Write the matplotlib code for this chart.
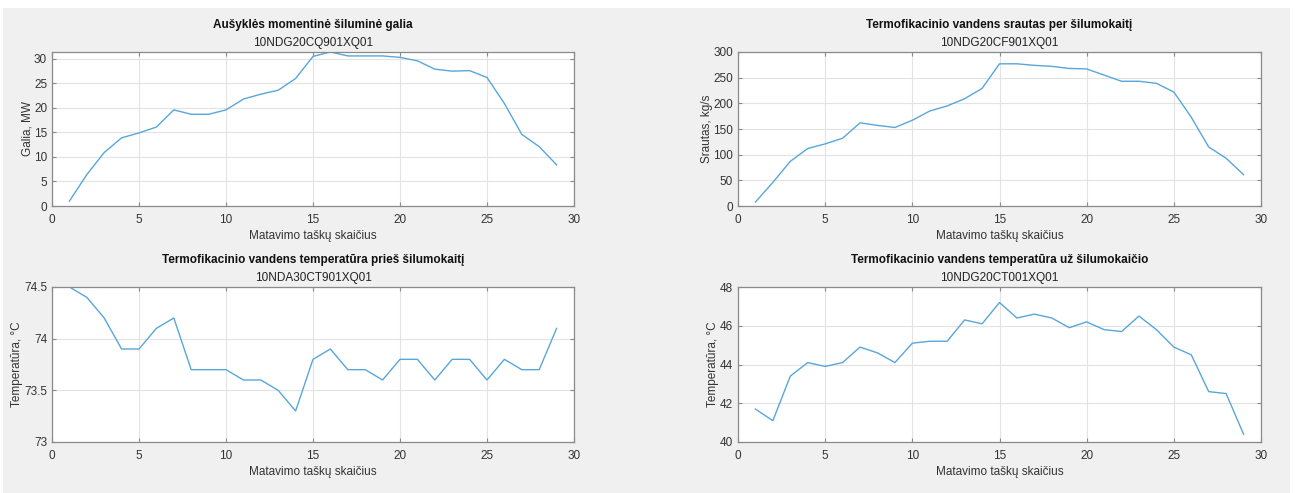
import matplotlib
matplotlib.use("Agg")
import matplotlib.pyplot as plt
from matplotlib.patches import Rectangle

plt.rcParams['font.family'] = ['Liberation Sans', 'DejaVu Sans']

x = list(range(1, 30))

galia = [1.0, 6.4, 10.9, 13.9, 14.9, 16.1, 19.6, 18.7, 18.7, 19.6,
         21.8, 22.8, 23.6, 26.0, 30.5, 31.4, 30.6, 30.6, 30.6, 30.3,
         29.6, 27.9, 27.5, 27.6, 26.2, 20.9, 14.6, 12.1, 8.4]

srautas = [7.7, 46, 87, 112, 121, 132, 162, 157, 153, 167,
           185, 195, 209, 229, 277, 277, 274, 272, 268, 267,
           255, 243, 243, 239, 222, 173, 115, 93, 61]

temp_pries = [74.5, 74.4, 74.2, 73.9, 73.9, 74.1, 74.2, 73.7, 73.7, 73.7,
              73.6, 73.6, 73.5, 73.3, 73.8, 73.9, 73.7, 73.7, 73.6, 73.8,
              73.8, 73.6, 73.8, 73.8, 73.6, 73.8, 73.7, 73.7, 74.1]

temp_uz = [41.7, 41.1, 43.4, 44.1, 43.9, 44.1, 44.9, 44.6, 44.1, 45.1,
           45.2, 45.2, 46.3, 46.1, 47.2, 46.4, 46.6, 46.4, 45.9, 46.2,
           45.8, 45.7, 46.5, 45.8, 44.9, 44.5, 42.6, 42.5, 40.4]

titles = ["Aušyklės momentinė šiluminė galia",
          "Termofikacinio vandens srautas per šilumokaitį",
          "Termofikacinio vandens temperatūra prieš šilumokaitį",
          "Termofikacinio vandens temperatūra už šilumokaičio"]
subtitles = ["10NDG20CQ901XQ01", "10NDG20CF901XQ01",
             "10NDA30CT901XQ01", "10NDG20CT001XQ01"]
ylabels = ["Galia, MW", "Srautas, kg/s", "Temperatūra, °C", "Temperatūra, °C"]
xlabel = "Matavimo taškų skaičius"
series = [galia, srautas, temp_pries, temp_uz]
ylims = [(0, 31.4), (0, 300), (73, 74.5), (40, 48)]
yticks = [[0, 5, 10, 15, 20, 25, 30], [0, 50, 100, 150, 200, 250, 300],
          [73, 73.5, 74, 74.5], [40, 42, 44, 46, 48]]
yticklabels = [None, None, ["73", "73.5", "74", "74.5"], None]
xticks = [0, 5, 10, 15, 20, 25, 30]

W, H = 1297, 493
fig = plt.figure(figsize=(W / 100, H / 100), dpi=100)
fig.patch.set_facecolor('white')
fig.patches.append(Rectangle((3 / W, 0), (1290 - 3) / W, (H - 8) / H,
                             transform=fig.transFigure, facecolor='#f0f0f0',
                             edgecolor='none', zorder=-10))

# axes boxes in pixel coords (left, top, right, bottom)
boxes = [(52, 52, 574, 206), (738, 52, 1261, 206),
         (52, 287, 574, 442), (738, 287, 1261, 442)]

line_color = '#58a6dc'
frame_color = '#8a8a8a'
text_color = '#333333'

for i, (l, t, r, b) in enumerate(boxes):
    ax = fig.add_axes([l / W, 1 - b / H, (r - l) / W, (b - t) / H])
    ax.set_facecolor('white')
    ax.plot(x, series[i], color=line_color, linewidth=1.0)
    ax.set_xlim(0, 30)
    ax.set_ylim(*ylims[i])
    ax.set_xticks(xticks)
    ax.set_yticks(yticks[i])
    if yticklabels[i] is not None:
        ax.set_yticklabels(yticklabels[i])
    ax.grid(True, color='#e3e3e3', linewidth=0.8)
    ax.set_axisbelow(True)
    for s in ax.spines.values():
        s.set_color(frame_color)
        s.set_linewidth(0.9)
    ax.tick_params(direction='in', length=3, width=0.8, color=frame_color,
                   labelsize=8.5, labelcolor=text_color,
                   top=True, right=True)
    ax.tick_params(axis='x', pad=5.5)
    ax.tick_params(axis='y', pad=3.5)
    ax.set_xlabel(xlabel, fontsize=8.5, color=text_color, labelpad=3)
    ax.set_ylabel(ylabels[i], fontsize=8.5, color=text_color, labelpad=0.5)
    cx = (l + r) / 2 / W
    fig.text(cx, 1 - (t - 27) / H, titles[i], ha='center', va='center',
             fontsize=8.5, fontweight='bold', color='#111111')
    fig.text(cx, 1 - (t - 9) / H, subtitles[i], ha='center', va='center',
             fontsize=8.5, color='#222222')

fig.savefig('out.png', dpi=100, facecolor=fig.get_facecolor())
